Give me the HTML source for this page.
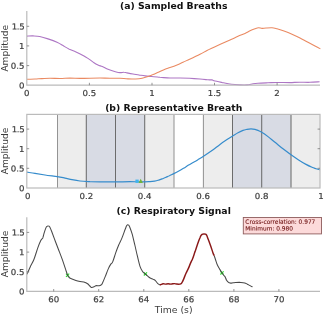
<!DOCTYPE html><html><head><meta charset="utf-8"><title>Breaths</title><style>html,body{margin:0;padding:0;background:#fff}svg{display:block}text{font-family:"DejaVu Sans","Liberation Sans",sans-serif}</style></head><body>
<svg width="325" height="315" viewBox="0 0 325 315">
<rect width="325" height="315" fill="#fff"/>
<text x="173.7" y="9.3" font-size="9.3" font-weight="bold" fill="#111" text-anchor="middle">(a) Sampled Breaths</text>
<text transform="translate(8.2 48.3) rotate(-90)" font-size="9.1" fill="#3c3c3c" text-anchor="middle">Amplitude</text>
<path d="M27.0 36.1C28.0 36.1 30.9 35.8 33.0 35.9C35.1 36.0 37.2 36.0 39.7 36.5C42.2 37.0 45.1 37.9 48.0 38.9C50.9 39.9 54.5 41.2 57.0 42.3C59.5 43.4 61.0 44.4 63.0 45.6C65.0 46.8 67.1 48.2 69.3 49.3C71.5 50.3 73.5 50.8 76.0 51.9C78.5 53.0 81.8 54.7 84.0 55.9C86.2 57.1 87.3 58.0 89.0 59.1C90.7 60.2 92.5 61.7 94.0 62.7C95.5 63.7 96.6 64.3 98.0 65.0C99.4 65.7 100.6 65.9 102.3 66.6C104.0 67.3 106.0 68.5 108.0 69.3C110.0 70.1 112.6 71.0 114.6 71.5C116.6 72.0 118.4 72.5 120.0 72.6C121.6 72.7 122.8 72.2 124.0 72.3C125.2 72.3 125.5 72.6 127.0 72.9C128.5 73.2 131.0 73.7 133.0 74.0C135.0 74.3 137.0 74.7 139.0 75.0C141.0 75.3 142.9 75.7 145.0 75.9C147.1 76.2 149.1 76.3 151.6 76.5C154.1 76.7 156.9 77.0 160.0 77.3C163.1 77.5 166.7 77.9 170.0 78.0C173.3 78.1 176.7 78.0 180.0 78.0C183.3 78.0 186.3 78.1 189.6 78.3C192.9 78.5 196.9 78.8 200.0 79.0C203.1 79.2 206.0 79.6 208.0 79.8C210.0 80.0 211.0 79.7 212.0 79.9C213.0 80.1 212.3 80.4 214.0 80.8C215.7 81.2 219.1 81.9 222.0 82.5C224.9 83.1 228.5 83.9 231.5 84.3C234.5 84.7 237.4 84.8 240.0 84.9C242.6 85.0 244.8 85.1 247.0 84.9C249.2 84.7 251.2 84.1 253.0 83.8C254.8 83.5 255.5 83.4 258.0 83.2C260.5 83.0 264.8 82.9 268.0 82.8C271.2 82.7 273.3 82.5 277.0 82.5C280.7 82.5 286.2 82.6 290.0 82.6C293.8 82.5 296.7 82.2 300.0 82.2C303.3 82.2 306.7 82.4 310.0 82.3C313.3 82.2 318.0 81.8 319.6 81.7" fill="none" stroke="#ad76c4" stroke-width="1.12" stroke-linejoin="round"/>
<path d="M27.0 79.2C28.3 79.2 32.5 79.1 35.0 79.0C37.5 78.9 39.5 78.7 42.0 78.6C44.5 78.5 47.0 78.3 50.0 78.3C53.0 78.3 56.7 78.5 60.0 78.5C63.3 78.5 66.7 78.1 70.0 78.1C73.3 78.1 76.7 78.4 80.0 78.4C83.3 78.4 86.7 78.3 90.0 78.2C93.3 78.1 96.7 78.0 100.0 78.0C103.3 78.0 106.7 78.3 110.0 78.3C113.3 78.3 117.0 78.1 120.0 78.2C123.0 78.3 124.8 78.8 128.0 78.9C131.2 79.0 136.5 78.9 139.0 78.7C141.5 78.5 141.5 78.3 143.0 77.9C144.5 77.5 146.3 77.0 148.0 76.5C149.7 76.0 151.2 75.3 153.0 74.6C154.8 73.8 157.0 72.9 159.0 72.0C161.0 71.1 163.2 70.0 165.0 69.3C166.8 68.6 168.0 68.3 170.0 67.6C172.0 66.9 174.8 65.9 177.0 65.0C179.2 64.1 180.9 63.2 183.0 62.2C185.1 61.2 186.8 60.6 189.6 59.3C192.4 58.0 197.1 55.8 200.0 54.3C202.9 52.8 204.7 51.7 207.0 50.5C209.3 49.3 211.5 48.4 214.0 47.2C216.5 46.1 219.3 44.8 222.0 43.6C224.7 42.4 227.3 41.2 230.0 40.0C232.7 38.8 235.5 37.4 238.0 36.3C240.5 35.2 243.0 34.3 245.0 33.4C247.0 32.5 248.3 31.6 250.0 30.8C251.7 30.0 253.6 29.3 255.0 28.8C256.4 28.3 257.3 27.9 258.5 27.8C259.7 27.7 260.8 28.4 262.0 28.4C263.2 28.4 264.3 28.1 266.0 28.0C267.7 27.9 270.2 27.7 272.0 27.8C273.8 27.9 275.0 28.3 277.0 28.8C279.0 29.3 281.5 30.1 284.0 31.0C286.5 31.9 289.3 33.0 292.0 34.2C294.7 35.4 297.3 36.6 300.0 38.0C302.7 39.4 305.5 41.0 308.0 42.3C310.5 43.6 312.9 44.9 315.0 46.0C317.1 47.1 319.5 48.4 320.4 48.9" fill="none" stroke="#ea8a62" stroke-width="1.08" stroke-linejoin="round"/>
<path d="M26.8 11.0V85.2H320.0" fill="none" stroke="#bbbbbb" stroke-width="1.2"/>
<text transform="translate(24.4 88.4) rotate(0.05) scale(1.05 1)" font-size="8.2" fill="#3c3c3c" stroke="#3c3c3c" stroke-width="0.2" text-anchor="end">0</text>
<text transform="translate(24.4 68.8) rotate(0.05) scale(1.05 1)" font-size="8.2" fill="#3c3c3c" stroke="#3c3c3c" stroke-width="0.2" text-anchor="end">0.5</text>
<path d="M26.8 65.6h2.4" stroke="#6a6a6a" stroke-width="0.7"/>
<text transform="translate(24.4 49.1) rotate(0.05) scale(1.05 1)" font-size="8.2" fill="#3c3c3c" stroke="#3c3c3c" stroke-width="0.2" text-anchor="end">1</text>
<path d="M26.8 45.9h2.4" stroke="#6a6a6a" stroke-width="0.7"/>
<text transform="translate(24.4 29.5) rotate(0.05) scale(1.05 1)" font-size="8.2" fill="#3c3c3c" stroke="#3c3c3c" stroke-width="0.2" text-anchor="end" letter-spacing="-0.3">1.5</text>
<path d="M26.8 26.3h2.4" stroke="#6a6a6a" stroke-width="0.7"/>
<text transform="translate(26.8 96.1) rotate(0.05) scale(1.05 1)" font-size="8.2" fill="#3c3c3c" stroke="#3c3c3c" stroke-width="0.2" text-anchor="middle">0</text>
<path d="M89.4 85.2v-2.4" stroke="#6a6a6a" stroke-width="0.7"/>
<text transform="translate(89.4 96.1) rotate(0.05) scale(1.05 1)" font-size="8.2" fill="#3c3c3c" stroke="#3c3c3c" stroke-width="0.2" text-anchor="middle">0.5</text>
<path d="M152.0 85.2v-2.4" stroke="#6a6a6a" stroke-width="0.7"/>
<text transform="translate(152.0 96.1) rotate(0.05) scale(1.05 1)" font-size="8.2" fill="#3c3c3c" stroke="#3c3c3c" stroke-width="0.2" text-anchor="middle">1</text>
<path d="M214.5 85.2v-2.4" stroke="#6a6a6a" stroke-width="0.7"/>
<text transform="translate(214.5 96.1) rotate(0.05) scale(1.05 1)" font-size="8.2" fill="#3c3c3c" stroke="#3c3c3c" stroke-width="0.2" text-anchor="middle">1.5</text>
<path d="M277.1 85.2v-2.4" stroke="#6a6a6a" stroke-width="0.7"/>
<text transform="translate(277.1 96.1) rotate(0.05) scale(1.05 1)" font-size="8.2" fill="#3c3c3c" stroke="#3c3c3c" stroke-width="0.2" text-anchor="middle">2</text>
<text x="173.7" y="111.4" font-size="9.3" font-weight="bold" fill="#111" text-anchor="middle">(b) Representative Breath</text>
<text transform="translate(8.2 151.0) rotate(-90)" font-size="9.1" fill="#3c3c3c" text-anchor="middle">Amplitude</text>
<rect x="57.0" y="114.4" width="29.2" height="73.6" fill="#ededed"/>
<rect x="86.3" y="114.4" width="58.5" height="73.6" fill="#d8dbe4"/>
<rect x="144.7" y="114.4" width="29.2" height="73.6" fill="#ededed"/>
<rect x="203.2" y="114.4" width="29.2" height="73.6" fill="#ededed"/>
<rect x="232.4" y="114.4" width="58.5" height="73.6" fill="#d8dbe4"/>
<rect x="290.9" y="114.4" width="29.2" height="73.6" fill="#ededed"/>
<path d="M57.5 114.4V188.0" stroke="#949494" stroke-width="1.05"/>
<path d="M86.3 114.4V188.0" stroke="#6c6c6c" stroke-width="1.05"/>
<path d="M115.5 114.4V188.0" stroke="#6c6c6c" stroke-width="1.05"/>
<path d="M144.7 114.4V188.0" stroke="#6c6c6c" stroke-width="1.05"/>
<path d="M174.0 114.4V188.0" stroke="#949494" stroke-width="1.05"/>
<path d="M203.4 114.4V188.0" stroke="#949494" stroke-width="1.05"/>
<path d="M232.5 114.4V188.0" stroke="#6c6c6c" stroke-width="1.05"/>
<path d="M261.7 114.4V188.0" stroke="#6c6c6c" stroke-width="1.05"/>
<path d="M291.0 114.4V188.0" stroke="#6c6c6c" stroke-width="1.05"/>
<path d="M27.0 172.2C28.3 172.4 32.0 172.8 35.0 173.3C38.0 173.8 41.3 174.4 45.0 175.0C48.7 175.6 54.1 176.1 57.4 176.6C60.7 177.1 62.6 177.6 65.0 178.1C67.4 178.6 69.5 179.2 72.0 179.7C74.5 180.2 77.0 180.7 80.0 181.0C83.0 181.3 86.7 181.5 90.0 181.7C93.3 181.8 95.8 181.9 100.0 181.9C104.2 181.9 110.0 181.9 115.0 181.9C120.0 181.9 125.0 181.7 130.0 181.7C134.9 181.7 141.4 181.8 144.7 181.8C148.0 181.8 148.3 181.7 150.0 181.6C151.7 181.5 153.3 181.3 154.6 181.1C155.9 180.9 156.8 180.7 158.0 180.3C159.2 179.9 160.8 179.4 162.0 178.9C163.2 178.4 164.3 178.0 165.5 177.5C166.7 177.0 168.0 176.3 169.4 175.7C170.8 175.0 172.2 174.4 173.8 173.6C175.5 172.8 177.6 171.7 179.3 170.8C181.0 169.9 182.4 169.0 184.0 168.0C185.6 167.0 187.4 165.8 189.1 164.8C190.8 163.8 192.3 162.9 194.0 162.0C195.7 161.1 197.3 160.1 199.0 159.1C200.7 158.1 201.7 157.4 203.9 156.0C206.1 154.6 209.3 152.5 212.0 150.6C214.7 148.7 217.5 146.2 220.0 144.4C222.5 142.6 224.9 141.0 227.0 139.6C229.1 138.2 230.9 137.1 232.7 136.0C234.5 134.9 236.3 133.7 238.0 132.8C239.7 131.9 241.5 131.0 243.0 130.4C244.5 129.8 245.7 129.6 247.0 129.3C248.3 129.0 249.7 128.8 251.0 128.8C252.3 128.8 253.8 129.0 255.0 129.3C256.2 129.6 256.9 129.9 258.0 130.4C259.1 130.9 260.0 131.2 261.7 132.2C263.4 133.2 265.8 134.9 268.0 136.6C270.2 138.3 272.5 140.3 275.0 142.3C277.5 144.3 280.3 146.7 283.0 148.8C285.7 150.9 288.3 152.8 291.0 154.7C293.7 156.6 296.5 158.6 299.0 160.2C301.5 161.8 303.8 163.2 306.0 164.4C308.2 165.6 310.3 166.5 312.0 167.2C313.7 167.9 314.7 168.4 316.0 168.8C317.3 169.2 319.3 169.6 320.0 169.8" fill="none" stroke="#368ccc" stroke-width="1.2"/>
<rect x="26.8" y="114.4" width="293.2" height="73.6" fill="none" stroke="#bbbbbb" stroke-width="1.2"/>
<text transform="translate(24.4 191.2) rotate(0.05) scale(1.05 1)" font-size="8.2" fill="#3c3c3c" stroke="#3c3c3c" stroke-width="0.2" text-anchor="end">0</text>
<text transform="translate(24.4 171.5) rotate(0.05) scale(1.05 1)" font-size="8.2" fill="#3c3c3c" stroke="#3c3c3c" stroke-width="0.2" text-anchor="end">0.5</text>
<path d="M26.8 168.3h2.4" stroke="#6a6a6a" stroke-width="0.7"/>
<path d="M320.0 168.3h-2.4" stroke="#6a6a6a" stroke-width="0.7"/>
<text transform="translate(24.4 151.9) rotate(0.05) scale(1.05 1)" font-size="8.2" fill="#3c3c3c" stroke="#3c3c3c" stroke-width="0.2" text-anchor="end">1</text>
<path d="M26.8 148.7h2.4" stroke="#6a6a6a" stroke-width="0.7"/>
<path d="M320.0 148.7h-2.4" stroke="#6a6a6a" stroke-width="0.7"/>
<text transform="translate(24.4 132.2) rotate(0.05) scale(1.05 1)" font-size="8.2" fill="#3c3c3c" stroke="#3c3c3c" stroke-width="0.2" text-anchor="end" letter-spacing="-0.3">1.5</text>
<path d="M26.8 129.1h2.4" stroke="#6a6a6a" stroke-width="0.7"/>
<path d="M320.0 129.1h-2.4" stroke="#6a6a6a" stroke-width="0.7"/>
<text transform="translate(27.8 198.9) rotate(0.05) scale(1.05 1)" font-size="8.2" fill="#3c3c3c" stroke="#3c3c3c" stroke-width="0.2" text-anchor="middle">0</text>
<text transform="translate(86.3 198.9) rotate(0.05) scale(1.05 1)" font-size="8.2" fill="#3c3c3c" stroke="#3c3c3c" stroke-width="0.2" text-anchor="middle">0.2</text>
<text transform="translate(144.7 198.9) rotate(0.05) scale(1.05 1)" font-size="8.2" fill="#3c3c3c" stroke="#3c3c3c" stroke-width="0.2" text-anchor="middle">0.4</text>
<text transform="translate(203.2 198.9) rotate(0.05) scale(1.05 1)" font-size="8.2" fill="#3c3c3c" stroke="#3c3c3c" stroke-width="0.2" text-anchor="middle">0.6</text>
<text transform="translate(261.6 198.9) rotate(0.05) scale(1.05 1)" font-size="8.2" fill="#3c3c3c" stroke="#3c3c3c" stroke-width="0.2" text-anchor="middle">0.8</text>
<text transform="translate(321.1 198.9) rotate(0.05) scale(1.05 1)" font-size="8.2" fill="#3c3c3c" stroke="#3c3c3c" stroke-width="0.2" text-anchor="middle">1</text>
<rect x="135.4" y="179.6" width="3.3" height="3.3" fill="#41b4ee"/>
<path d="M138.5 182.9L140.7 178.7L142.9 182.9Z" fill="#6fb33c"/>
<text x="173.7" y="214.3" font-size="9.3" font-weight="bold" fill="#111" text-anchor="middle">(c) Respiratory Signal</text>
<text transform="translate(8.2 254.0) rotate(-90)" font-size="9.1" fill="#3c3c3c" text-anchor="middle">Amplitude</text>
<path d="M66.0 273.59999999999997l3.2 3.2M66.0 276.8l3.2 -3.2" stroke="#2ce02c" stroke-width="1.15"/>
<path d="M143.8 272.29999999999995l3.2 3.2M143.8 275.5l3.2 -3.2" stroke="#2ce02c" stroke-width="1.15"/>
<path d="M220.4 271.29999999999995l3.2 3.2M220.4 274.5l3.2 -3.2" stroke="#2ce02c" stroke-width="1.15"/>
<path d="M27.0 274.3C27.5 273.1 29.0 269.7 30.1 267.2C31.2 264.7 32.6 262.7 33.9 259.5C35.2 256.3 36.6 251.2 37.7 248.1C38.9 244.9 39.9 242.3 40.8 240.6C41.6 238.9 42.2 239.1 42.8 237.9C43.3 236.7 43.6 234.9 44.1 233.2C44.6 231.5 45.4 229.1 45.9 227.9C46.4 226.8 46.7 226.6 47.0 226.3C47.3 226.0 47.6 225.9 47.9 225.9C48.2 225.9 48.7 225.9 49.0 226.1C49.3 226.3 49.4 226.3 49.9 227.2C50.4 228.1 50.8 229.1 51.7 231.5C52.6 233.9 54.2 238.3 55.5 241.7C56.8 245.1 58.1 248.5 59.4 251.9C60.7 255.3 62.2 259.1 63.2 262.1C64.2 265.1 65.0 267.6 65.7 269.7C66.4 271.8 67.0 273.7 67.5 275.0C68.0 276.3 68.5 276.7 69.0 277.3C69.5 277.9 69.6 278.1 70.8 278.6C72.0 279.1 74.4 279.9 75.9 280.4C77.4 280.9 78.7 281.2 80.0 281.5C81.3 281.8 82.5 281.5 83.8 281.9C85.1 282.3 86.6 283.0 87.6 283.7C88.6 284.4 89.1 285.4 89.8 286.0C90.5 286.6 90.8 287.3 91.5 287.4C92.2 287.5 93.3 287.1 94.0 286.8C94.7 286.5 95.0 285.9 95.8 285.7C96.6 285.5 98.2 285.8 99.1 285.7C100.0 285.6 100.5 285.4 101.0 285.0C101.5 284.6 101.7 284.7 102.4 283.2C103.1 281.7 104.4 278.6 105.4 276.1C106.4 273.6 107.6 270.4 108.5 268.4C109.4 266.4 110.3 264.9 111.0 263.9C111.7 262.8 111.8 263.9 112.6 262.1C113.4 260.3 114.6 256.1 115.6 253.2C116.6 250.3 117.6 247.6 118.7 245.0C119.8 242.4 120.9 240.6 122.0 237.9C123.1 235.2 124.5 231.0 125.3 229.0C126.1 227.0 126.2 226.5 126.6 225.8C127.0 225.1 127.3 224.8 127.6 224.7C127.9 224.6 128.3 224.8 128.6 225.1C128.9 225.4 129.0 225.3 129.6 226.8C130.2 228.3 131.3 231.2 132.2 234.1C133.0 237.0 133.8 240.7 134.7 244.3C135.5 247.9 136.4 252.0 137.3 255.7C138.2 259.4 139.2 264.0 140.1 266.6C141.0 269.2 141.8 270.3 142.6 271.5C143.4 272.7 144.1 273.0 145.2 274.0C146.3 275.0 147.7 276.4 149.0 277.3C150.3 278.2 151.7 278.6 152.8 279.1C153.9 279.7 154.6 279.8 155.4 280.6C156.2 281.4 157.2 283.0 157.9 283.7C158.7 284.4 159.6 284.8 159.9 285.0" fill="none" stroke="#484848" stroke-width="1.05"/>
<path d="M214.2 255.7C214.5 256.5 215.3 258.9 215.8 260.5C216.3 262.1 216.7 263.5 217.4 265.0C218.1 266.5 219.1 268.1 219.8 269.4C220.6 270.7 221.3 271.9 221.9 272.8C222.5 273.7 223.0 274.3 223.5 275.0C224.0 275.7 224.7 276.3 225.1 276.9C225.5 277.5 225.6 278.0 225.8 278.6C226.1 279.2 226.2 279.7 226.6 280.3C227.0 280.9 227.6 281.7 228.2 282.2C228.8 282.7 229.4 283.0 230.2 283.1C231.0 283.2 232.1 282.9 233.0 282.8C233.9 282.7 234.5 282.6 235.8 282.5C237.1 282.4 239.4 282.3 240.9 282.4C242.4 282.5 243.6 282.6 244.7 282.9C245.8 283.2 246.4 283.8 247.3 284.2C248.2 284.6 249.1 285.2 250.0 285.6C250.9 286.1 252.2 286.7 252.6 286.9" fill="none" stroke="#484848" stroke-width="1.05"/>
<path d="M159.9 285.0C160.2 284.9 161.0 284.6 161.5 284.4C162.0 284.2 162.3 283.8 163.0 283.7C163.7 283.6 164.7 284.1 165.5 284.1C166.3 284.1 167.2 283.8 168.1 283.8C169.0 283.8 169.9 284.1 171.0 284.1C172.1 284.1 173.5 283.6 174.4 283.6C175.3 283.6 175.8 283.9 176.5 284.0C177.2 284.1 177.7 284.2 178.3 284.2C178.9 284.2 179.5 284.2 180.0 284.1C180.5 284.0 180.9 283.9 181.3 283.5C181.7 283.1 182.0 282.6 182.3 282.0C182.6 281.4 182.7 281.3 183.3 279.9C183.9 278.5 185.1 275.4 185.9 273.5C186.8 271.6 187.6 270.3 188.4 268.4C189.2 266.5 190.3 263.7 191.0 262.1C191.7 260.5 191.8 260.8 192.5 259.0C193.2 257.2 194.2 254.1 195.1 251.6C195.9 249.1 196.8 246.4 197.6 244.0C198.4 241.6 199.5 238.7 200.2 237.2C200.8 235.7 201.1 235.4 201.5 234.9C201.9 234.4 202.1 234.3 202.5 234.2C202.9 234.0 203.5 234.0 204.0 234.0C204.5 234.0 205.1 234.0 205.5 234.2C205.9 234.4 206.1 234.3 206.6 235.2C207.1 236.1 207.6 237.8 208.3 239.6C209.0 241.4 209.8 243.6 210.6 245.8C211.4 248.0 212.4 251.2 213.0 252.9C213.6 254.6 214.0 255.2 214.2 255.7" fill="none" stroke="#8a1818" stroke-width="1.45"/>
<path d="M26.8 217.2V291.4H320.0" fill="none" stroke="#bbbbbb" stroke-width="1.2"/>
<text transform="translate(24.4 294.6) rotate(0.05) scale(1.05 1)" font-size="8.2" fill="#3c3c3c" stroke="#3c3c3c" stroke-width="0.2" text-anchor="end">0</text>
<text transform="translate(24.4 274.9) rotate(0.05) scale(1.05 1)" font-size="8.2" fill="#3c3c3c" stroke="#3c3c3c" stroke-width="0.2" text-anchor="end">0.5</text>
<path d="M26.8 271.8h2.4" stroke="#6a6a6a" stroke-width="0.7"/>
<text transform="translate(24.4 255.3) rotate(0.05) scale(1.05 1)" font-size="8.2" fill="#3c3c3c" stroke="#3c3c3c" stroke-width="0.2" text-anchor="end">1</text>
<path d="M26.8 252.1h2.4" stroke="#6a6a6a" stroke-width="0.7"/>
<text transform="translate(24.4 235.6) rotate(0.05) scale(1.05 1)" font-size="8.2" fill="#3c3c3c" stroke="#3c3c3c" stroke-width="0.2" text-anchor="end" letter-spacing="-0.3">1.5</text>
<path d="M26.8 232.4h2.4" stroke="#6a6a6a" stroke-width="0.7"/>
<path d="M53.7 291.4v-2.4" stroke="#6a6a6a" stroke-width="0.7"/>
<text transform="translate(53.7 302.3) rotate(0.05) scale(1.05 1)" font-size="8.2" fill="#3c3c3c" stroke="#3c3c3c" stroke-width="0.2" text-anchor="middle">60</text>
<path d="M98.7 291.4v-2.4" stroke="#6a6a6a" stroke-width="0.7"/>
<text transform="translate(98.7 302.3) rotate(0.05) scale(1.05 1)" font-size="8.2" fill="#3c3c3c" stroke="#3c3c3c" stroke-width="0.2" text-anchor="middle">62</text>
<path d="M143.8 291.4v-2.4" stroke="#6a6a6a" stroke-width="0.7"/>
<text transform="translate(143.8 302.3) rotate(0.05) scale(1.05 1)" font-size="8.2" fill="#3c3c3c" stroke="#3c3c3c" stroke-width="0.2" text-anchor="middle">64</text>
<path d="M188.8 291.4v-2.4" stroke="#6a6a6a" stroke-width="0.7"/>
<text transform="translate(188.8 302.3) rotate(0.05) scale(1.05 1)" font-size="8.2" fill="#3c3c3c" stroke="#3c3c3c" stroke-width="0.2" text-anchor="middle">66</text>
<path d="M233.9 291.4v-2.4" stroke="#6a6a6a" stroke-width="0.7"/>
<text transform="translate(233.9 302.3) rotate(0.05) scale(1.05 1)" font-size="8.2" fill="#3c3c3c" stroke="#3c3c3c" stroke-width="0.2" text-anchor="middle">68</text>
<path d="M278.9 291.4v-2.4" stroke="#6a6a6a" stroke-width="0.7"/>
<text transform="translate(278.9 302.3) rotate(0.05) scale(1.05 1)" font-size="8.2" fill="#3c3c3c" stroke="#3c3c3c" stroke-width="0.2" text-anchor="middle">70</text>
<text x="173.7" y="312.6" font-size="9.3" fill="#3c3c3c" text-anchor="middle">Time (s)</text>
<rect x="243.3" y="217.5" width="78.2" height="16.4" fill="#fcdada" stroke="#8e5c5c" stroke-width="0.9"/>
<text transform="translate(245.3 223.8) rotate(0.05)" font-size="5.85" fill="#701616" stroke="#701616" stroke-width="0.12">Cross-correlation: 0.977</text>
<text transform="translate(245.3 230.4) rotate(0.05)" font-size="5.85" fill="#701616" stroke="#701616" stroke-width="0.12">Minimum: 0.980</text>
</svg></body></html>
